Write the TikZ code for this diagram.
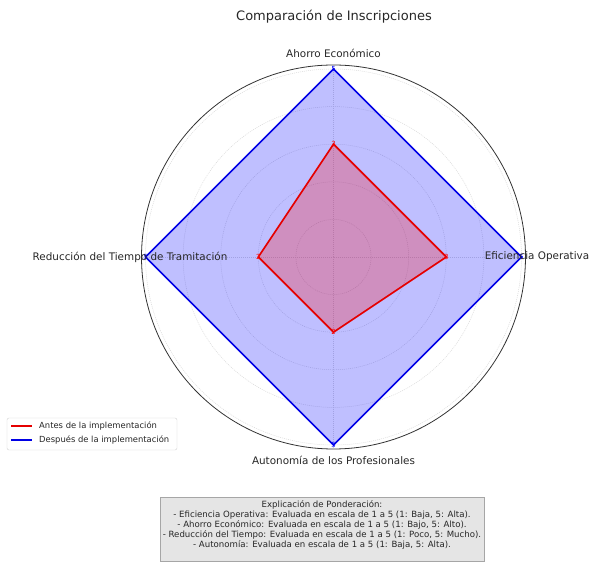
\documentclass[tikz,border=0pt]{standalone}
\usepackage{fontspec}
\setmainfont{DejaVu Sans}
\usetikzlibrary{positioning}

\begin{document}
\begin{tikzpicture}[x=1pt,y=1pt]
\tikzstyle{grid} = [gray!30, line width=0.5pt, dash pattern=on 1pt off 1pt]
\tikzstyle{axislabel} = [font=\fontsize{10.4}{12}\selectfont, text=black!85, inner sep=0pt]
\tikzstyle{vallabel} = [font=\fontsize{7}{8}\selectfont, inner sep=0pt]
\tikzstyle{antes} = [red!90!black, line width=1.7pt, line join=miter]
\tikzstyle{despues} = [blue!90!black, line width=1.7pt, line join=miter]
\tikzstyle{legtext} = [font=\fontsize{8.4}{10}\selectfont, text=black!85, inner sep=0pt, anchor=west]
\useasboundingbox (0,0) rectangle (590,565);
\coordinate (c) at (333.5,308);

% grid and frame
\foreach \r in {1,...,5}
\draw [grid] (c) circle (\r*37.6);
\foreach \a in {0,90,180,270}
\draw [grid] (c) -- ++(\a:192);
\draw [black!80, line width=0.8pt] (c) circle (192);

% data points
\foreach \name/\a/\v/\w in {eff/0/3/5, aho/90/3/5, red/180/2/5, aut/270/2/5} {
\path (c) ++(\a:\v*37.6) coordinate (a-\name);
\path (c) ++(\a:\w*37.6) coordinate (d-\name);
\path (c) ++(\a:203.5) coordinate (l-\name);
}

\fill [blue, opacity=0.25] (d-eff) -- (d-aho) -- (d-red) -- (d-aut) -- cycle;
\draw [despues] (d-eff) -- (d-aho) -- (d-red) -- (d-aut) -- cycle;
\fill [red, opacity=0.25] (a-eff) -- (a-aho) -- (a-red) -- (a-aut) -- cycle;
\draw [antes] (a-eff) -- (a-aho) -- (a-red) -- (a-aut) -- cycle;

\foreach \name/\v in {eff/3, aho/3, red/2, aut/2}
\node [vallabel, text=red] at (a-\name) {\v};
\foreach \name in {eff, aho, red, aut}
\node [vallabel, text=blue] at (d-\name) {5};

% axis labels
\node [axislabel] (eff) at (l-eff) {Eficiencia Operativa};
\node [axislabel] (aho) at (l-aho) {Ahorro Económico};
\node [axislabel] (red) at (l-red) {Reducción del Tiempo de Tramitación};
\node [axislabel] (aut) at (l-aut) {Autonomía de los Profesionales};

\node [font=\fontsize{13}{15}\selectfont, text=black!85] (title) at (334,548) {Comparación de Inscripciones};

% legend
\draw [gray!35, fill=white, rounded corners=2pt] (7,115) rectangle (177,147);
\node [legtext] (ant) at (39,139) {Antes de la implementación};
\node [legtext] (des) at (39,125) {Después de la implementación};
\draw [antes, line width=1.2pt] ([xshift=-28pt]ant.west) -- ([xshift=-7pt]ant.west);
\draw [despues, line width=1.2pt] ([xshift=-28pt]des.west) -- ([xshift=-7pt]des.west);

% explanation
\node [draw=gray!70, fill=gray!20, align=center, anchor=north, inner sep=3pt,
font=\fontsize{8.6}{10}\selectfont, text=black!85] (expl) at (322,68) {Explicación de Ponderación:\\
- Eficiencia Operativa: Evaluada en escala de 1 a 5 (1: Baja, 5: Alta).\\
- Ahorro Económico: Evaluada en escala de 1 a 5 (1: Bajo, 5: Alto).\\
- Reducción del Tiempo: Evaluada en escala de 1 a 5 (1: Poco, 5: Mucho).\\
- Autonomía: Evaluada en escala de 1 a 5 (1: Baja, 5: Alta).\\[1pt]};
\end{tikzpicture}
\end{document}
